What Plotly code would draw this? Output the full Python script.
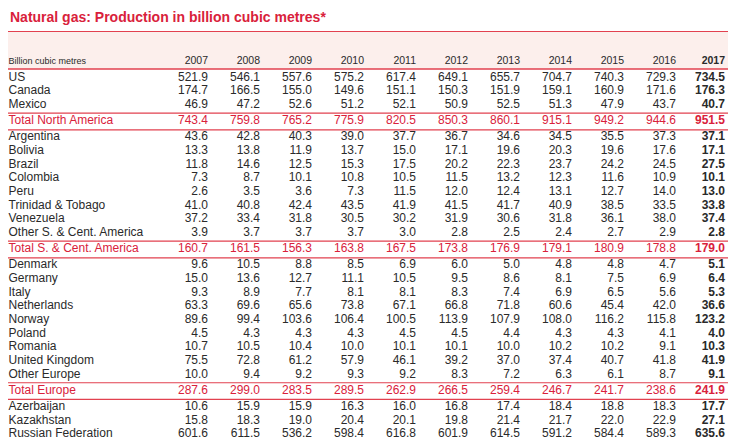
import plotly.graph_objects as go

# Natural gas production table, billion cubic metres
YEARS = [2007, 2008, 2009, 2010, 2011, 2012, 2013, 2014, 2015, 2016, 2017]

NA_COUNTRIES = ["US", "Canada", "Mexico"]
NA_VALUES = [
    [521.9, 546.1, 557.6, 575.2, 617.4, 649.1, 655.7, 704.7, 740.3, 729.3, 734.5],
    [174.7, 166.5, 155.0, 149.6, 151.1, 150.3, 151.9, 159.1, 160.9, 171.6, 176.3],
    [46.9, 47.2, 52.6, 51.2, 52.1, 50.9, 52.5, 51.3, 47.9, 43.7, 40.7],
]
NA_TOTAL = [743.4, 759.8, 765.2, 775.9, 820.5, 850.3, 860.1, 915.1, 949.2, 944.6, 951.5]

SCA_COUNTRIES = ["Argentina", "Bolivia", "Brazil", "Colombia", "Peru",
                 "Trinidad & Tobago", "Venezuela", "Other S. & Cent. America"]
SCA_VALUES = [
    [43.6, 42.8, 40.3, 39.0, 37.7, 36.7, 34.6, 34.5, 35.5, 37.3, 37.1],
    [13.3, 13.8, 11.9, 13.7, 15.0, 17.1, 19.6, 20.3, 19.6, 17.6, 17.1],
    [11.8, 14.6, 12.5, 15.3, 17.5, 20.2, 22.3, 23.7, 24.2, 24.5, 27.5],
    [7.3, 8.7, 10.1, 10.8, 10.5, 11.5, 13.2, 12.3, 11.6, 10.9, 10.1],
    [2.6, 3.5, 3.6, 7.3, 11.5, 12.0, 12.4, 13.1, 12.7, 14.0, 13.0],
    [41.0, 40.8, 42.4, 43.5, 41.9, 41.5, 41.7, 40.9, 38.5, 33.5, 33.8],
    [37.2, 33.4, 31.8, 30.5, 30.2, 31.9, 30.6, 31.8, 36.1, 38.0, 37.4],
    [3.9, 3.7, 3.7, 3.7, 3.0, 2.8, 2.5, 2.4, 2.7, 2.9, 2.8],
]
SCA_TOTAL = [160.7, 161.5, 156.3, 163.8, 167.5, 173.8, 176.9, 179.1, 180.9, 178.8, 179.0]

EU_COUNTRIES = ["Denmark", "Germany", "Italy", "Netherlands", "Norway", "Poland",
                "Romania", "United Kingdom", "Other Europe"]
EU_VALUES = [
    [9.6, 10.5, 8.8, 8.5, 6.9, 6.0, 5.0, 4.8, 4.8, 4.7, 5.1],
    [15.0, 13.6, 12.7, 11.1, 10.5, 9.5, 8.6, 8.1, 7.5, 6.9, 6.4],
    [9.3, 8.9, 7.7, 8.1, 8.1, 8.3, 7.4, 6.9, 6.5, 5.6, 5.3],
    [63.3, 69.6, 65.6, 73.8, 67.1, 66.8, 71.8, 60.6, 45.4, 42.0, 36.6],
    [89.6, 99.4, 103.6, 106.4, 100.5, 113.9, 107.9, 108.0, 116.2, 115.8, 123.2],
    [4.5, 4.3, 4.3, 4.3, 4.5, 4.5, 4.4, 4.3, 4.3, 4.1, 4.0],
    [10.7, 10.5, 10.4, 10.0, 10.1, 10.1, 10.0, 10.2, 10.2, 9.1, 10.3],
    [75.5, 72.8, 61.2, 57.9, 46.1, 39.2, 37.0, 37.4, 40.7, 41.8, 41.9],
    [10.0, 9.4, 9.2, 9.3, 9.2, 8.3, 7.2, 6.3, 6.1, 8.7, 9.1],
]
EU_TOTAL = [287.6, 299.0, 283.5, 289.5, 262.9, 266.5, 259.4, 246.7, 241.7, 238.6, 241.9]

CIS_COUNTRIES = ["Azerbaijan", "Kazakhstan", "Russian Federation"]
CIS_VALUES = [
    [10.6, 15.9, 15.9, 16.3, 16.0, 16.8, 17.4, 18.4, 18.8, 18.3, 17.7],
    [15.8, 18.3, 19.0, 20.4, 20.1, 19.8, 21.4, 21.7, 22.0, 22.9, 27.1],
    [601.6, 611.5, 536.2, 598.4, 616.8, 601.9, 614.5, 591.2, 584.4, 589.3, 635.6],
]

RED = '#d9213b'
LINE_RED = '#e2414f'
TEXT = '#2a2a2a'
HEADER_BG = '#fcefec'
FONT = 'Liberation Sans, Arial, sans-serif'
W, H = 736, 443
PAD = 8  # page body margin, the figure starts this far in

# build the row list: (label, values, is_total)
rows = []
for names, vals, total, tname in [
    (NA_COUNTRIES, NA_VALUES, NA_TOTAL, 'Total North America'),
    (SCA_COUNTRIES, SCA_VALUES, SCA_TOTAL, 'Total S. & Cent. America'),
    (EU_COUNTRIES, EU_VALUES, EU_TOTAL, 'Total Europe'),
    (CIS_COUNTRIES, CIS_VALUES, None, None),
]:
    for n, v in zip(names, vals):
        rows.append((n, v, False))
    if total is not None:
        rows.append((tname, total, True))

# vertical positions (window pixels from top)
ROW_H = 13.65
y = 77.7
row_y, rule_y = [], []
prev_total = False
for i, (n, v, is_total) in enumerate(rows):
    if i > 0:
        if is_total:
            rule_y.append(y + 8.2)
            y += 16.4
        elif prev_total:
            rule_y.append(y + 8.5)
            y += 16.0
        else:
            y += ROW_H
    row_y.append(y)
    prev_total = is_total

col_right = [208 + 52 * i for i in range(len(YEARS))]
col_right[-1] = 725

fig = go.Figure()

# row labels
fig.add_trace(go.Scatter(
    x=[8.5] * len(rows), y=row_y,
    text=[r[0] for r in rows], mode='text', textposition='middle right',
    textfont=dict(family=FONT, size=12,
                  color=[RED if r[2] else TEXT for r in rows]),
    hoverinfo='skip', showlegend=False,
))

# year columns
for j, yr in enumerate(YEARS):
    last = j == len(YEARS) - 1
    txt = [f'{r[1][j]:.1f}' for r in rows]
    if last:
        txt = [f'<b>{t}</b>' for t in txt]
    fig.add_trace(go.Scatter(
        x=[col_right[j]] * len(rows), y=row_y,
        text=txt, mode='text', textposition='middle left',
        textfont=dict(family=FONT, size=12,
                      color=[RED if r[2] else TEXT for r in rows]),
        hoverinfo='skip', showlegend=False,
    ))

# header row
fig.add_trace(go.Scatter(
    x=col_right, y=[61.5] * len(YEARS),
    text=[f'<b>{yr}</b>' if yr == YEARS[-1] else str(yr) for yr in YEARS],
    mode='text', textposition='middle left',
    textfont=dict(family=FONT, size=10.5, color=TEXT),
    hoverinfo='skip', showlegend=False,
))
fig.add_trace(go.Scatter(
    x=[8.5], y=[61.5], text=['Billion cubic metres'],
    mode='text', textposition='middle right',
    textfont=dict(family=FONT, size=9, color=TEXT),
    hoverinfo='skip', showlegend=False,
))
fig.add_trace(go.Scatter(
    x=[732.5], y=[43], text=['C'],
    mode='text', textposition='middle right',
    textfont=dict(family=FONT, size=10, color='#555555'),
    hoverinfo='skip', showlegend=False,
))

shapes = [
    dict(type='rect', x0=6, x1=731, y0=31.5, y1=69, fillcolor=HEADER_BG,
         line=dict(width=0), layer='below'),
    dict(type='line', x0=6, x1=W, y0=31.5, y1=31.5, line=dict(color=LINE_RED, width=1.2)),
    dict(type='line', x0=6, x1=W, y0=69, y1=69, line=dict(color=LINE_RED, width=1.5)),
    dict(type='line', x0=731, x1=731, y0=31.5, y1=H, line=dict(color=LINE_RED, width=1)),
    dict(type='line', x0=731, x1=W, y0=50, y1=50, line=dict(color=LINE_RED, width=1)),
]
for ry in rule_y:
    shapes.append(dict(type='line', x0=6, x1=W, y0=ry, y1=ry,
                       line=dict(color=LINE_RED, width=1.2)))

fig.update_layout(
    width=W - PAD, height=H - PAD,
    margin=dict(l=0, r=0, t=0, b=0),
    paper_bgcolor='white', plot_bgcolor='white',
    xaxis=dict(range=[PAD, W], visible=False, fixedrange=True),
    yaxis=dict(range=[H, PAD], visible=False, fixedrange=True),
    shapes=shapes,
    annotations=[dict(
        x=8, y=17, xref='x', yref='y', xanchor='left', yanchor='middle',
        text='<b>Natural gas: Production in billion cubic metres*</b>',
        showarrow=False, font=dict(family=FONT, size=14, color=RED),
    )],
)

fig.write_html("out.html")
